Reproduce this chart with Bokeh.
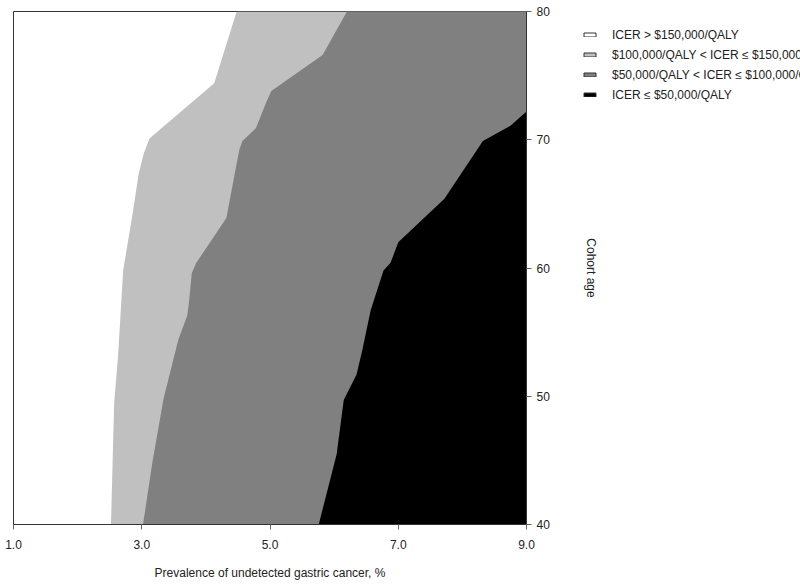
from bokeh.plotting import figure
from bokeh.layouts import row
from bokeh.models import Range1d, FixedTicker, NumeralTickFormatter, Legend, LegendItem
from bokeh.embed import file_html
from bokeh.resources import INLINE

# ---- data -------------------------------------------------------------
X_MIN, X_MAX = 1.0, 9.0
Y_MIN, Y_MAX = 40, 80
x_ticks = [1.0, 3.0, 5.0, 7.0, 9.0]
y_ticks = [40, 50, 60, 70, 80]

# boundary: ICER = $150,000/QALY (white | light gray)
age_b150 = [40, 49.5, 53.1, 59.8, 64.3, 67.3, 68.9, 70.1, 74.4, 80]
prev_b150 = [2.52, 2.57, 2.63, 2.71, 2.86, 2.95, 3.03, 3.12, 4.13, 4.48]

# boundary: ICER = $100,000/QALY (light gray | mid gray)
age_b100 = [40, 45, 49.8, 54.4, 56.3, 57.5, 59.6, 60.4, 63.9, 66.3, 69.2, 69.9, 70.9, 72.9, 73.8, 76.6, 80]
prev_b100 = [3.02, 3.17, 3.34, 3.57, 3.71, 3.74, 3.78, 3.85, 4.32, 4.41, 4.52, 4.57, 4.78, 4.94, 5.02, 5.82, 6.20]

# boundary: ICER = $50,000/QALY (mid gray | black)
age_b50 = [40, 45.5, 49.7, 51.7, 53.6, 56.7, 59.8, 60.4, 62.0, 65.4, 69.9, 71.1, 72.2]
prev_b50 = [5.76, 6.04, 6.15, 6.35, 6.44, 6.57, 6.77, 6.88, 7.00, 7.72, 8.32, 8.75, 9.00]

labels = [
    "ICER > $150,000/QALY",
    "$100,000/QALY < ICER \u2264 $150,000/QALY",
    "$50,000/QALY < ICER \u2264 $100,000/QALY",
    "ICER \u2264 $50,000/QALY",
]
colors = ["#ffffff", "#c0c0c0", "#808080", "#000000"]

FONT = "Liberation Sans"
TXT = "#222222"
NAN = float("nan")

# ---- main figure ------------------------------------------------------
p = figure(width=600, height=585,
           x_range=Range1d(X_MIN, X_MAX), y_range=Range1d(Y_MIN, Y_MAX),
           y_axis_location="right",
           output_backend="svg", toolbar_location=None,
           min_border_left=13, min_border_top=11,
           min_border_right=71, min_border_bottom=61)
p.grid.visible = False
p.outline_line_color = "#333333"
p.outline_line_width = 1
p.background_fill_color = "#ffffff"

p.harea(y=age_b150, x1=prev_b150, x2=[X_MAX] * len(age_b150), fill_color=colors[1])
p.harea(y=age_b100, x1=prev_b100, x2=[X_MAX] * len(age_b100), fill_color=colors[2])
p.harea(y=age_b50, x1=prev_b50, x2=[X_MAX] * len(age_b50), fill_color=colors[3])

xa = p.xaxis[0]
xa.ticker = FixedTicker(ticks=x_ticks)
xa.formatter = NumeralTickFormatter(format="0.0")
xa.axis_label = "Prevalence of undetected gastric cancer, %"
ya = p.yaxis[0]
ya.ticker = FixedTicker(ticks=y_ticks)
ya.axis_label = "Cohort age"
for ax in (xa, ya):
    ax.minor_tick_line_color = None
    ax.major_tick_in = 0
    ax.major_tick_out = 5
    ax.major_tick_line_color = "#666666"
    ax.axis_line_color = "#333333"
    ax.major_label_text_font = FONT
    ax.major_label_text_font_size = "12px"
    ax.major_label_text_color = TXT
    ax.axis_label_text_font = FONT
    ax.axis_label_text_font_size = "12px"
    ax.axis_label_text_font_style = "normal"
    ax.axis_label_text_color = TXT
xa.major_label_standoff = 10
xa.axis_label_standoff = 14
ya.major_label_standoff = 5
ya.axis_label_standoff = 31

# ---- legend figure (overlaps the main figure's right margin) ----------
lf = figure(width=220, height=585, output_backend="svg", toolbar_location=None,
            x_range=Range1d(0, 1), y_range=Range1d(0, 1),
            x_axis_location=None, y_axis_location=None,
            min_border=0, outline_line_color=None,
            background_fill_color=None, border_fill_color=None,
            margin=(0, 0, 0, -20))
lf.grid.visible = False
items = []
for lab, col in zip(labels, colors):
    # swatch-only renderer: one undrawable (NaN) row so the legend has a style to use
    r = lf.quad(left=[NAN], right=[NAN], top=[NAN], bottom=[NAN], fill_color=col,
                line_color="#333333", line_width=1)
    items.append(LegendItem(label=lab, renderers=[r]))
legend = Legend(items=items, location=(2, 421),
                border_line_alpha=0, background_fill_alpha=0,
                padding=0, margin=0, spacing=3,
                glyph_width=15, glyph_height=5, label_height=17,
                label_standoff=15,
                label_text_font=FONT, label_text_font_size="12px",
                label_text_color=TXT)
lf.add_layout(legend)

layout = row(p, lf, spacing=0)
open("out.html", "w").write(file_html(layout, INLINE))
